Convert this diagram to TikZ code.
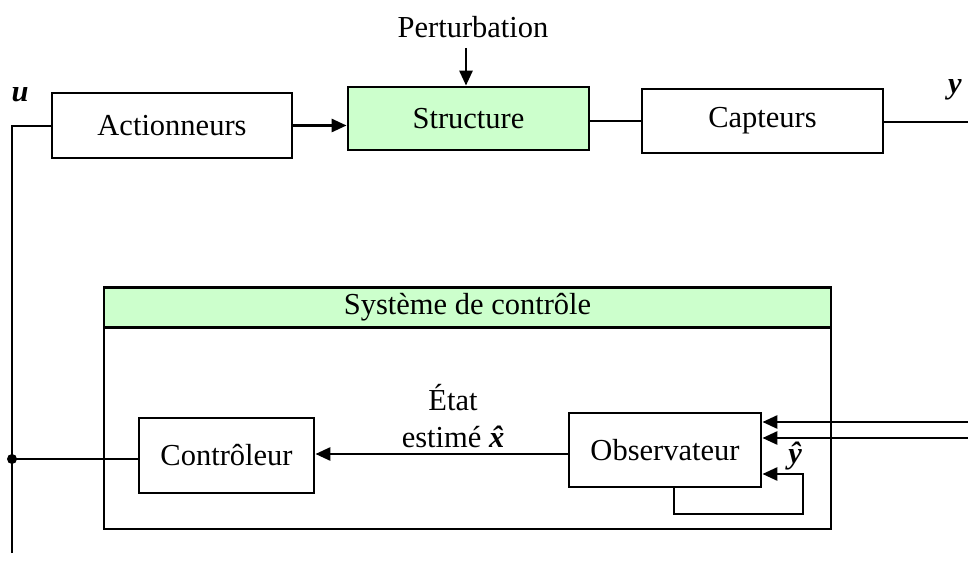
\documentclass[tikz,border=0pt]{standalone}
\usepackage{fontspec}
\setmainfont{Liberation Serif}
\usetikzlibrary{arrows.meta}
\definecolor{lgreen}{HTML}{CCFFCC}
\newcommand{\bihat}[1]{{\bfseries\itshape\accent"02C6 #1}}
\begin{document}
\begin{tikzpicture}[x=1pt,y=-1pt,
  every node/.style={font=\fontsize{30.5}{37}\selectfont},
  box/.style={draw,line width=2.8pt,inner sep=0pt,align=center},
  gbox/.style={box,fill=lgreen},
  wire/.style={line width=2.8pt},
  arr/.style={wire,-{Triangle[length=15pt,width=13pt]}}]
\useasboundingbox (0,0) rectangle (968,561);
% top row
\node[box,minimum width=240pt,minimum height=65pt] (act) at (172,125.5) {Actionneurs};
\node[gbox,minimum width=241pt,minimum height=63pt] (str) at (468.5,118.5) {Structure};
\node[box,minimum width=241pt,minimum height=64pt] (cap) at (762.5,121) {Capteurs};
\node (pert) at (473,27) {Perturbation};
\coordinate (ptop) at (466,48);
\node (ulab) at (20,95) {\textbf{\textit{u}}};
\node (ylab) at (955,90) {\textbf{\textit{y}}};
% control system
\node[box,minimum width=727pt,minimum height=242pt] (sys) at (467.5,408) {};
\node[gbox,minimum width=727pt,minimum height=40pt] (title) at (467.5,307.5) {Système de contrôle};
\node[box,minimum width=175pt,minimum height=75pt] (ctrl) at (226.5,455.5) {Contrôleur};
\node[box,minimum width=192pt,minimum height=74pt] (obs) at (665,450) {Observateur};
\node[align=center] (est) at (453,416) {État\\estimé \bihat{x}};
\node (yhat) at (795,456) {\bihat{y}};
% coordinates
\coordinate (utop) at (12,126);
\coordinate (ubot) at (12,553);
\coordinate (jn) at (12,459);
\coordinate (yend) at (968,122);
\coordinate (in1) at (968,422);
\coordinate (in2) at (968,438);
\coordinate (fbs) at (674,450);
\coordinate (fb1) at (674,514);
\coordinate (fb2) at (803,514);
\coordinate (fb3) at (803,474);
% connectors
\draw[wire] (ubot) -- (utop) -- (utop -| act.west);
\draw[arr] (act.east) -- (act.east -| str.west);
\draw[arr] (ptop) -- (ptop |- str.north);
\draw[wire] (str.east |- cap.west) -- (cap.west);
\draw[wire] (cap.east |- yend) -- (yend);
\draw[arr] (in1) -- (in1 -| obs.east);
\draw[arr] (in2) -- (in2 -| obs.east);
\draw[arr] (fbs |- obs.south) -- (fb1) -- (fb2) -- (fb3) -- (fb3 -| obs.east);
\draw[arr] (obs.west |- 0,454) -- (ctrl.east |- 0,454);
\draw[wire] (ctrl.west |- jn) -- (jn);
\fill (jn) circle (5pt);
\end{tikzpicture}
\end{document}
